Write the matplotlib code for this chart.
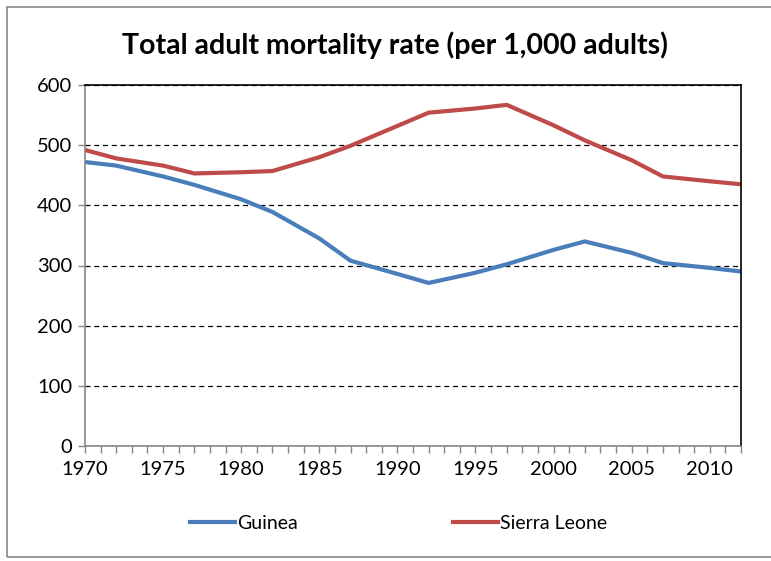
import matplotlib
matplotlib.use('Agg')
import matplotlib.pyplot as plt
from matplotlib.patches import Rectangle

plt.rcParams['font.family'] = ['Lato', 'DejaVu Sans']

years = [1970, 1972, 1975, 1977, 1980, 1982, 1985, 1987, 1990, 1992,
         1995, 1997, 2000, 2002, 2005, 2007, 2010, 2012]
guinea = [472, 466, 448, 434, 410, 389, 345, 308, 286, 271,
          288, 302, 326, 340, 321, 304, 296, 290]
sierra_leone = [492, 478, 466, 453, 455, 457, 480, 499, 532, 554,
                561, 567, 533, 508, 475, 448, 440, 435]
xlabels = [1970, 1975, 1980, 1985, 1990, 1995, 2000, 2005, 2010]

fig = plt.figure(figsize=(7.71, 5.61), dpi=100)
ax = fig.add_axes([85/771, 1 - 446/561, (741 - 85)/771, (446 - 85)/561])

ax.plot(years, guinea, color='#4a7ebb', lw=3, label='Guinea', solid_joinstyle='round')
ax.plot(years, sierra_leone, color='#be4b48', lw=3, label='Sierra Leone', solid_joinstyle='round')

ax.set_xlim(1970, 2012)
ax.set_ylim(0, 600)
ax.set_yticks(range(0, 700, 100))
ax.set_xticks(xlabels)
ax.set_xticks(range(1970, 2013), minor=True)
ax.yaxis.grid(True, color='black', ls=(0, (4, 3)), lw=0.9)
ax.set_axisbelow(True)

for s in ['top', 'right']:
    ax.spines[s].set_color('black')
    ax.spines[s].set_linewidth(1.2)
for s in ['left', 'bottom']:
    ax.spines[s].set_color('#868686')
    ax.spines[s].set_linewidth(1.2)

ax.tick_params(axis='both', which='both', direction='out', color='#868686', length=5, width=1)
ax.tick_params(axis='x', labelsize=14.5, pad=6)
ax.tick_params(axis='y', labelsize=14.5, pad=4)

fig.text(395/771, 1 - 45/561, 'Total adult mortality rate (per 1,000 adults)',
         ha='center', va='center', fontsize=20.5, fontweight='bold')

ax.legend(loc='center', bbox_to_anchor=(0.478, -0.215), ncol=2, frameon=False,
          fontsize=14, handlelength=2.3, handletextpad=0.1, columnspacing=8.0)

fig.patches.append(Rectangle((7/771, 1 - 557/561), 1.2, 550/561, transform=fig.transFigure,
                             fill=False, edgecolor='#888888', lw=1.2))

fig.savefig('out.png', dpi=100)
